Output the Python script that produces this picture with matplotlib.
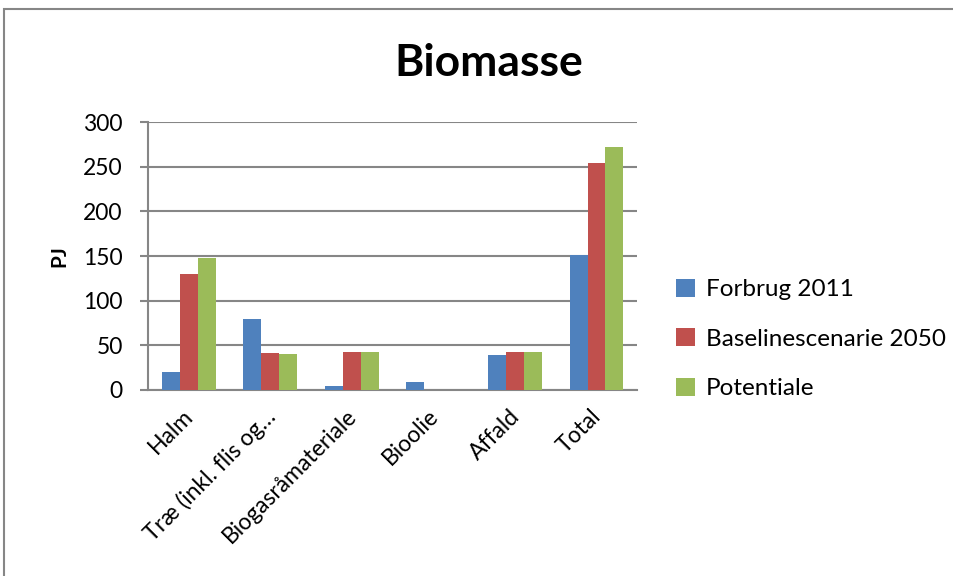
import matplotlib
matplotlib.use("Agg")
import matplotlib.pyplot as plt
import matplotlib.transforms as mtransforms
import numpy as np
from matplotlib.patches import Rectangle

# data (PJ)
categories = ["Halm", "Træ (inkl. flis og…", "Biogasråmateriale", "Bioolie", "Affald", "Total"]
forbrug_2011 = [20, 79, 4, 9, 39, 151]
baseline_2050 = [130, 41, 42, 0, 42, 254]
potentiale = [148, 40, 42, 0, 42, 272]
series_names = ["Forbrug 2011", "Baselinescenarie 2050", "Potentiale"]
colors = ["#4F81BD", "#C0504D", "#9BBB59"]
yticks = [0, 50, 100, 150, 200, 250, 300]


def main():
    plt.rcParams["font.family"] = ["Lato", "DejaVu Sans"]
    fig = plt.figure(figsize=(9.54, 5.76), dpi=100)
    ax = fig.add_axes([0.155, 0.323, 0.513, 0.465])

    x = np.arange(len(categories))
    w = 0.22
    for i, (vals, name) in enumerate(zip([forbrug_2011, baseline_2050, potentiale], series_names)):
        ax.bar(x + (i - 1) * w, vals, width=w, color=colors[i], label=name, zorder=3)

    ax.set_xlim(-0.5, len(categories) - 0.5)
    ax.set_ylim(0, 300)
    ax.set_yticks(yticks)
    ax.set_yticklabels([str(v) for v in yticks], fontsize=16.5)
    ax.yaxis.grid(True, color="#868686", linewidth=1.5, zorder=0)
    ax.set_xticks(x)
    ax.set_xticklabels(categories, fontsize=16.5, rotation=45, ha="right",
                       va="top", rotation_mode="anchor")
    ax.tick_params(axis="x", length=0, pad=4)
    ax.tick_params(axis="y", length=6, color="#868686", width=1.5, pad=12)
    # nudge the slanted labels down-left like the original
    offset = mtransforms.ScaledTranslation(-0.06, -0.10, fig.dpi_scale_trans)
    for lab in ax.get_xticklabels():
        lab.set_transform(lab.get_transform() + offset)

    for s in ["top", "right"]:
        ax.spines[s].set_visible(False)
    for s in ["left", "bottom"]:
        ax.spines[s].set_color("#868686")
        ax.spines[s].set_linewidth(1.5)

    ax.set_ylabel("PJ", fontsize=15, fontweight="bold", labelpad=10)
    fig.text(0.512, 0.89, "Biomasse", fontsize=32, fontweight="bold",
             ha="center", va="center")

    ax.legend(loc="center left", bbox_to_anchor=(1.06, 0.19), frameon=False,
              fontsize=17.5, handlelength=0.75, handleheight=0.75,
              labelspacing=1.15, handletextpad=0.45, borderaxespad=0)

    # outer chart frame
    fig.patches.append(Rectangle((4 / 954, -0.05), 1.1, 1 - 9 / 576 + 0.05,
                                 transform=fig.transFigure, fill=False,
                                 edgecolor="#868686", linewidth=1.5))

    fig.savefig("out.png", dpi=100)


if __name__ == "__main__":
    main()
